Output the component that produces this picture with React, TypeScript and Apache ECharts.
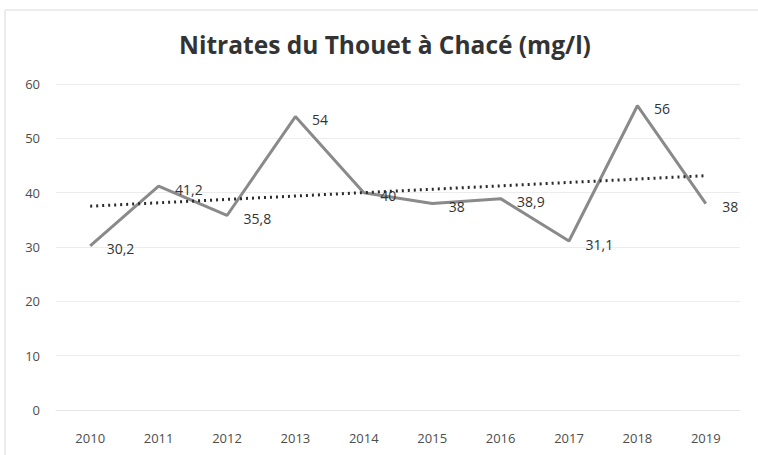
import React, { useEffect, useRef } from "react";
import * as echarts from "echarts";

const years = ["2010", "2011", "2012", "2013", "2014", "2015", "2016", "2017", "2018", "2019"];
const nitrates = [30.2, 41.2, 35.8, 54, 40, 38, 38.9, 31.1, 56, 38];
const yTicks = { min: 0, max: 60, interval: 10 };
const title = "Nitrates du Thouet à Chacé (mg/l)";

function linearTrend(values: number[]): number[] {
  const n = values.length;
  const mx = (n - 1) / 2;
  const my = values.reduce((a, b) => a + b, 0) / n;
  let sxy = 0;
  let sxx = 0;
  values.forEach((v, i) => {
    sxy += (i - mx) * (v - my);
    sxx += (i - mx) * (i - mx);
  });
  const slope = sxy / sxx;
  const b = my - slope * mx;
  return values.map((_, i) => +(b + slope * i).toFixed(3));
}

export default function App() {
  const ref = useRef<HTMLDivElement>(null);
  useEffect(() => {
    if (!ref.current) return;
    const chart = echarts.init(ref.current, null, { renderer: "svg" });
    const font = "'Open Sans', 'Liberation Sans', sans-serif";
    chart.setOption({
      animation: false,
      backgroundColor: "#ffffff",
      title: {
        text: title,
        left: 380,
        textAlign: "center",
        top: 27,
        textStyle: { fontFamily: font, fontSize: 24.5, fontWeight: "bold", color: "#333333" },
      },
      graphic: [
        {
          type: "rect",
          shape: { x: 5, y: 10, width: 760, height: 450 },
          style: { fill: "none", stroke: "#d9d9d9", lineWidth: 1 },
          silent: true,
        },
      ],
      grid: { left: 56, right: 18, top: 84, bottom: 45, containLabel: false },
      xAxis: {
        type: "category",
        data: years,
        boundaryGap: true,
        axisLine: { show: true, lineStyle: { color: "#e6e6e6" } },
        axisTick: { show: false },
        axisLabel: { color: "#4d4d4d", fontFamily: font, fontSize: 13, margin: 21 },
      },
      yAxis: {
        type: "value",
        min: yTicks.min,
        max: yTicks.max,
        interval: yTicks.interval,
        axisLine: { show: false },
        axisTick: { show: false },
        axisLabel: { color: "#4d4d4d", fontFamily: font, fontSize: 13, margin: 16 },
        splitLine: { lineStyle: { color: "#ececec", width: 1 } },
      },
      series: [
        {
          type: "line",
          data: nitrates,
          symbol: "circle",
          symbolSize: 1,
          showSymbol: true,
          itemStyle: { color: "rgba(0,0,0,0)" },
          lineStyle: { color: "#8a8a8a", width: 3 },
          label: {
            show: true,
            position: "right",
            distance: 16,
            offset: [0, 3],
            color: "#333333",
            fontFamily: font,
            fontSize: 14,
            formatter: (p: any) => String(p.value).replace(".", ","),
          },
          z: 2,
        },
        {
          type: "line",
          data: linearTrend(nitrates),
          symbol: "none",
          lineStyle: { color: "#2b2b2b", width: 3, type: [2, 4] },
          z: 3,
        },
      ],
    });
    return () => chart.dispose();
  }, []);
  return (
    <div
      ref={ref}
      style={{ position: "absolute", left: 0, top: 0, width: 758, height: 455 }}
    />
  );
}
